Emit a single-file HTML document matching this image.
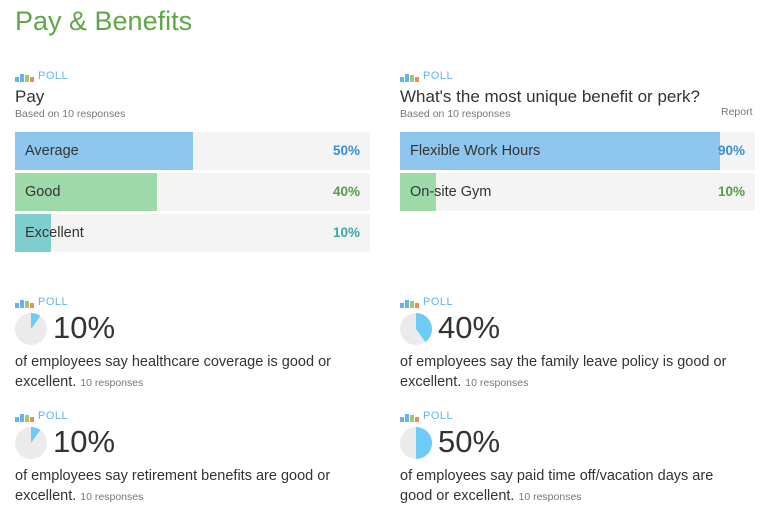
<!DOCTYPE html>
<html><head><meta charset="utf-8"><style>
body{margin:0;width:775px;height:521px;background:#fff;font-family:"Liberation Sans",sans-serif;color:#333;position:relative;overflow:hidden}
.a{position:absolute;white-space:nowrap}
.h1{left:15px;top:6px;font-size:27px;color:#5fa845}
.poll{font-size:11px;color:#64b5e8;letter-spacing:.5px}
.poll i{display:inline-block;width:4px;margin-right:1px;vertical-align:bottom}
.title{font-size:17px;color:#333}
.sub{font-size:10.5px;color:#777}
.bar{position:absolute;height:38px;background:#f4f4f4}
.fill{position:absolute;left:0;top:0;height:38px}
.lbl{position:absolute;left:10px;top:0;line-height:38px;font-size:14.5px;color:#333}
.pct{position:absolute;right:10px;top:0;line-height:38px;font-size:13.5px;font-weight:bold}
.big{font-size:31px;color:#333}
.desc{font-size:14.5px;color:#333;line-height:20px;white-space:normal;width:336px}
.desc span{font-size:10.5px;color:#777}
</style></head><body>
<div class="a h1">Pay &amp; Benefits</div>
<div id="root"></div>
<script>
const payCats=["Average","Good","Excellent"];
const payVals=[50,40,10];
const perkCats=["Flexible Work Hours","On-site Gym"];
const perkVals=[90,10];
const statVals=[10,40,10,50];
const statTexts=["of employees say healthcare coverage is good or excellent.","of employees say the family leave policy is good or excellent.","of employees say retirement benefits are good or excellent.","of employees say paid time off/vacation days are good or excellent."];
const colors=[["#8ec6ee","#3a8fd0"],["#9ed9a9","#5a9a4a"],["#7ccfcc","#3aa8a4"]];
const root=document.getElementById('root');
function add(html,x,y,cls,name){const d=document.createElement('div');d.className='a '+cls;d.style.left=x+'px';d.style.top=y+'px';d.innerHTML=html;


root.appendChild(d);return d;}
const pollHtml='<i style="height:5px;background:#64b5e8"></i><i style="height:8px;background:#64b5e8"></i><i style="height:7px;background:#9ccb6a"></i><i style="height:5px;background:#f08a5d;margin-right:4px"></i>POLL';
function poll(cx,cy,title,cats,vals,cidx){
 add(pollHtml,cx,cy+1,'poll','poll-label');
 add(title,cx,cy+18,'title','poll-title');
 add('Based on 10 responses',cx,cy+39,'sub','response-count');
 const W=355;
 cats.forEach((c,i)=>{
  const b=document.createElement('div');b.className='bar';b.style.left=cx+'px';b.style.top=(cy+63+i*41)+'px';b.style.width=W+'px';
  
  
  const col=colors[cidx[i]];
  b.innerHTML='<div class="fill" style="width:'+(W*vals[i]/100)+'px;background:'+col[0]+'"></div><div class="lbl">'+c+'</div><div class="pct" style="color:'+col[1]+'">'+vals[i]+'%</div>';
  root.appendChild(b);
 });
}
poll(15,69,'Pay',payCats,payVals,[0,1,2]);
poll(400,69,"What's the most unique benefit or perk?",perkCats,perkVals,[0,1]);
add('Report',721,106,'sub','report-link');
function pie(v){const r=16,a=v/100*2*Math.PI,x=16+r*Math.sin(a),y=16-r*Math.cos(a);
 return '<svg width="32" height="32" style="vertical-align:middle"><circle cx="16" cy="16" r="16" fill="#ebebeb"/><path d="M16 16 L16 0 A16 16 0 '+(v>50?1:0)+' 1 '+x.toFixed(2)+' '+y.toFixed(2)+' Z" fill="#6ecbf5"/></svg>';}
const pos=[[15,296],[400,296],[15,410],[400,410]];
statVals.forEach((v,i)=>{
 const [x,y]=pos[i];
 add(pollHtml,x,y,'poll','poll-label');
 add(pie(v),x,y+17,'','pie-chart');
 add(v+'%',x+38,y+14,'big','stat-percent');
 add(statTexts[i]+' <span>10 responses</span>',x,y+56,'desc','stat-description');
});
</script>
</body></html>
